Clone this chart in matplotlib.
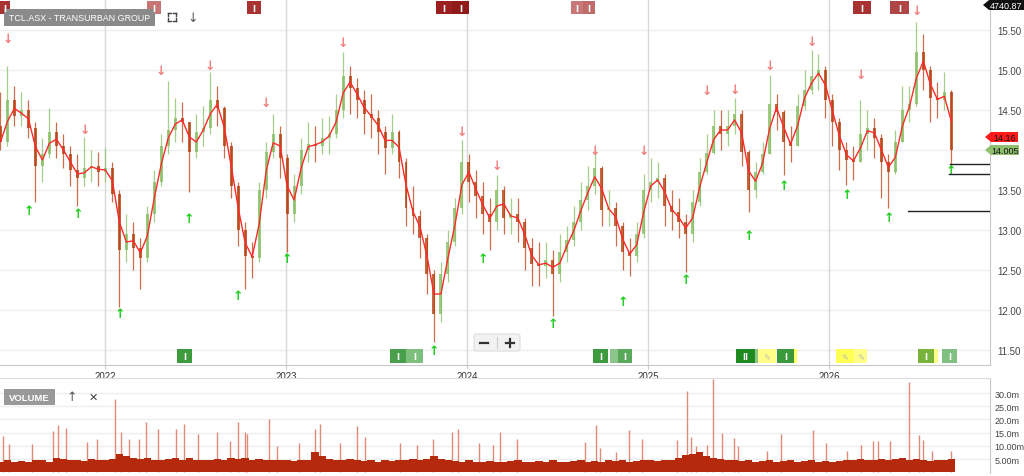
import numpy as np
import pandas as pd
import matplotlib
matplotlib.use("Agg")
import matplotlib.pyplot as plt
from matplotlib.patches import Rectangle, Polygon, FancyBboxPatch

plt.rcParams['font.family'] = ['Liberation Sans', 'DejaVu Sans']

# precios quincenales (TCL.ASX)
closes = [14.10, 14.62, 14.42, 14.50, 14.28, 13.80, 13.95, 14.22, 14.05, 13.95,
          13.75, 13.65, 13.78, 13.80, 13.72, 13.78, 13.45, 12.75, 12.95, 12.78,
          12.65, 13.20, 13.60, 14.05, 14.25, 14.40, 14.35, 13.98, 14.22, 14.28,
          14.62, 14.52, 14.05, 13.55, 13.00, 12.68, 12.65, 13.50, 13.98, 14.20,
          13.90, 13.20, 13.55, 14.00, 14.08, 14.05, 14.15, 14.20, 14.50, 14.92,
          14.78, 14.62, 14.45, 14.40, 14.22, 14.02, 14.22, 13.85, 13.28, 13.18,
          12.90, 12.45, 11.95, 12.45, 12.85, 13.28, 13.85, 13.60, 13.42, 13.20,
          13.10, 13.50, 13.15, 13.20, 13.10, 12.78, 12.58, 12.55, 12.62, 12.45,
          12.72, 12.88, 13.10, 13.38, 13.55, 13.78, 13.25, 13.28, 13.05, 12.72,
          12.68, 12.95, 13.50, 13.60, 13.65, 13.30, 13.22, 13.10, 12.95, 13.35,
          13.72, 13.96, 14.30, 14.20, 14.30, 14.45, 13.98, 13.50, 13.72, 13.95,
          14.58, 14.48, 14.10, 14.05, 14.55, 14.75, 14.92, 15.00, 14.62, 14.35,
          14.00, 13.88, 13.85, 14.20, 14.28, 14.15, 13.85, 13.72, 14.10, 14.50,
          14.58, 15.22, 15.00, 14.65, 14.62, 14.72, 14.00]
highs = [14.72, 15.05, 14.80, 14.72, 14.62, 14.35, 14.15, 14.52, 14.35, 14.20,
         14.05, 13.95, 14.16, 14.00, 13.98, 14.02, 13.85, 13.50, 13.20, 13.10,
         12.90, 13.30, 13.75, 14.20, 14.86, 14.65, 14.60, 14.35, 14.45, 14.55,
         14.97, 14.80, 14.55, 14.10, 13.60, 13.10, 12.85, 13.60, 14.10, 14.45,
         14.30, 13.95, 13.70, 14.15, 14.35, 14.30, 14.40, 14.42, 14.70, 15.23,
         15.05, 14.90, 14.75, 14.70, 14.50, 14.30, 14.45, 14.25, 13.90, 13.55,
         13.25, 12.95, 12.50, 12.60, 13.00, 13.40, 14.13, 13.95, 13.75, 13.60,
         13.40, 13.69, 13.55, 13.40, 13.40, 13.15, 12.90, 12.85, 12.85, 12.75,
         12.95, 13.05, 13.30, 13.60, 13.80, 14.02, 13.80, 13.50, 13.35, 13.10,
         12.90, 13.10, 13.70, 13.90, 13.85, 13.70, 13.50, 13.40, 13.20, 13.50,
         13.90, 14.20, 14.50, 14.50, 14.50, 14.65, 14.50, 14.00, 13.85, 14.10,
         14.94, 14.70, 14.50, 14.30, 14.70, 15.00, 15.25, 15.20, 15.05, 14.70,
         14.40, 14.10, 14.05, 14.63, 14.50, 14.40, 14.20, 13.95, 14.25, 14.80,
         14.80, 15.60, 15.45, 15.05, 14.85, 14.98, 14.75]
lows = [14.00, 14.05, 14.30, 14.30, 14.15, 13.35, 13.60, 13.90, 13.90, 13.78,
        13.55, 13.30, 13.55, 13.60, 13.55, 13.60, 13.35, 12.04, 12.60, 12.50,
        12.26, 12.60, 13.10, 13.55, 13.95, 14.10, 14.10, 13.47, 13.90, 14.05,
        14.20, 14.30, 13.90, 13.40, 12.80, 12.26, 12.40, 12.60, 13.40, 13.90,
        13.65, 12.73, 13.10, 13.45, 13.85, 13.85, 13.95, 13.95, 14.15, 14.40,
        14.45, 14.40, 14.20, 14.15, 13.95, 13.70, 13.95, 13.65, 13.05, 12.95,
        12.65, 12.20, 11.60, 11.85, 12.35, 12.80, 13.20, 13.35, 13.15, 12.95,
        12.75, 13.00, 12.95, 12.95, 12.85, 12.50, 12.30, 12.30, 12.40, 11.92,
        12.35, 12.60, 12.80, 13.00, 13.25, 13.45, 13.05, 13.05, 12.80, 12.50,
        12.42, 12.60, 12.90, 13.35, 13.40, 13.05, 13.00, 12.90, 12.48, 12.85,
        13.30, 13.70, 13.95, 14.00, 14.05, 14.20, 13.80, 13.23, 13.40, 13.70,
        13.95, 14.25, 13.69, 13.85, 14.05, 14.50, 14.70, 14.75, 14.40, 14.05,
        13.75, 13.56, 13.62, 13.85, 14.00, 13.90, 13.40, 13.27, 13.70, 14.10,
        14.35, 14.55, 14.75, 14.35, 14.40, 14.50, 13.80]
first_open = 14.30

# volumen base por quincena (millones)
vol_base = [4.0, 4.5, 3.8, 4.2, 4.0, 4.8, 4.5, 4.0,
            5.5, 5.0, 4.8, 4.5, 4.2, 5.0, 4.8, 4.5,
            5.0, 7.0, 6.0, 5.5, 5.0, 5.5, 4.8, 4.5,
            5.0, 5.5, 4.8, 5.2, 4.5, 4.8, 4.5, 5.0,
            4.8, 5.5, 5.0, 5.2, 4.5, 5.0, 4.8, 4.5,
            4.8, 4.5, 4.2, 4.5, 4.8, 7.5, 6.0, 5.0,
            4.8, 4.5, 5.0, 4.5, 4.2, 4.5, 4.0, 4.5,
            4.2, 4.5, 4.8, 5.0, 4.5, 5.0, 6.0, 5.0,
            4.5, 4.2, 4.0, 4.5, 4.0, 3.8, 4.2, 4.0,
            4.0, 4.2, 4.5, 4.0, 3.8, 4.2, 4.0, 4.5,
            4.0, 3.8, 4.2, 4.5, 4.0, 4.2, 4.0, 4.5,
            4.2, 4.5, 4.0, 4.2, 4.8, 4.5, 4.2, 4.5,
            4.8, 5.5, 6.5, 7.0, 7.5, 6.0, 5.5, 5.0,
            4.5, 4.8, 4.2, 4.5, 4.0, 4.2, 4.5, 4.0,
            4.2, 4.5, 4.0, 4.2, 4.5, 4.0, 4.2, 4.0,
            4.2, 4.5, 4.8, 5.0, 4.5, 4.8, 5.0, 4.5,
            5.0, 5.5, 4.8, 5.0, 4.5, 4.2, 4.5, 4.8, 5.0]

# picos de volumen diarios
spike_dates = ['2021-06-09', '2021-06-21', '2021-08-06', '2021-09-17', '2021-09-27',
               '2021-10-15', '2021-11-26', '2021-12-16', '2022-01-21', '2022-02-02',
               '2022-02-18', '2022-03-11', '2022-03-25', '2022-04-18', '2022-05-24',
               '2022-06-10', '2022-07-07', '2022-08-15', '2022-09-09', '2022-09-26',
               '2022-10-10', '2022-10-14', '2022-11-28', '2022-12-14', '2023-01-27',
               '2023-02-28', '2023-03-10', '2023-04-20', '2023-05-24', '2023-06-09',
               '2023-08-18', '2023-09-22', '2023-10-24', '2023-12-01', '2023-12-14',
               '2024-01-25', '2024-02-22', '2024-03-08', '2024-04-11', '2024-08-26',
               '2024-09-17', '2024-09-25', '2024-10-28', '2024-11-22', '2024-12-19',
               '2025-02-28', '2025-03-20', '2025-03-28', '2025-04-07', '2025-04-29',
               '2025-05-12', '2025-05-30', '2025-06-23', '2025-07-01', '2025-08-29',
               '2025-09-26', '2025-11-28', '2025-12-26', '2026-02-06', '2026-03-06',
               '2026-03-30', '2026-04-09', '2026-05-04', '2026-06-10', '2026-07-01',
               '2026-07-09', '2026-07-27', '2026-09-03']
spike_vals = [13.8, 10.7, 10.7, 15.7, 17.9, 16.9, 11.3, 12.5, 27.7, 15.1,
              12.5, 12.5, 18.9, 16.4, 16.4, 18.3, 14.5, 15.1, 12.0, 18.9,
              15.1, 14.5, 20.1, 10.0, 11.0, 16.4, 18.3, 11.0, 17.6, 13.5,
              11.0, 10.5, 12.5, 15.1, 16.4, 11.0, 10.5, 15.1, 12.5, 11.4,
              17.9, 9.0, 7.5, 16.1, 12.7, 12.1, 30.6, 13.5, 9.8, 10.5,
              35.5, 15.0, 12.8, 9.8, 8.0, 14.4, 16.0, 11.0, 8.0, 10.5,
              12.0, 12.0, 12.0, 34.3, 14.0, 12.2, 8.0, 8.0]

# senales (indice de barra, precio de la flecha)
down_idx = [1, 12, 23, 30, 38, 49, 66, 71, 85, 92, 101, 105, 110, 116, 123, 131]
down_px = [15.39, 14.26, 14.99, 15.05, 14.59, 15.34, 14.23, 13.80, 13.99, 13.99,
           14.74, 14.76, 15.05, 15.36, 14.94, 15.74]
up_idx = [4, 11, 17, 27, 34, 41, 62, 69, 79, 89, 98, 107, 112, 121, 127, 136]
up_px = [13.24, 13.20, 11.95, 13.14, 12.18, 12.64, 11.49, 12.64, 11.83, 12.11,
         12.38, 12.93, 13.56, 13.44, 13.16, 13.74]

years = ['2022', '2023', '2024', '2025', '2026']
price_ticks = [11.5, 12.0, 12.5, 13.0, 13.5, 14.5, 15.0, 15.5]
vol_ticks = [5, 10, 15, 20, 25, 30]
vol_labels = ['5.00m', '10.00m', '15.0m', '20.0m', '25.0m', '30.0m']

W, H = 1024, 477
fig = plt.figure(figsize=(W / 100, H / 100), dpi=100)
fig.patch.set_facecolor('white')


def fy(py):
    return 1 - py / H


ax = fig.add_axes([0, fy(366), 990 / W, fy(0) - fy(366)])
axv = fig.add_axes([0, fy(474), 990 / W, fy(379) - fy(474)], sharex=ax)

dates = pd.date_range('2021-06-04', '2026-09-04', periods=len(closes))
c = np.array(closes)
o = np.concatenate([[first_open], c[:-1]])
up = c >= o
cols = np.where(up, '#86bf62', '#b8400f')

# velas
ax.vlines(dates, lows, highs, colors=cols, lw=0.9, alpha=0.75, zorder=3)
ax.bar(dates, np.abs(c - o), bottom=np.minimum(o, c), width=6, color=cols,
       alpha=0.8, zorder=3, linewidth=0)
ma = pd.Series(closes).rolling(2, min_periods=1).mean()
ax.plot(dates, ma, color='#ff2a2a', lw=1.0, zorder=4)

for i, p in zip(down_idx, down_px):
    ax.text(dates[i], p, '↓', color='#f08080', ha='center', va='center',
            fontsize=9, fontweight='bold', family='DejaVu Sans', zorder=5)
for i, p in zip(up_idx, up_px):
    ax.text(dates[i], p, '↑', color='#22cc22', ha='center', va='center',
            fontsize=9, fontweight='bold', family='DejaVu Sans', zorder=5)

# lineas horizontales de soporte
ax.axhline(13.83, xmin=950 / 990, xmax=1, color='#222222', lw=1, zorder=5)
ax.axhline(13.70, xmin=949 / 990, xmax=1, color='#222222', lw=1, zorder=5)
ax.axhline(13.24, xmin=908 / 990, xmax=1, color='#222222', lw=1, zorder=5)

ax.set_ylim(11.3125, 15.8875)
ax.set_xlim(pd.Timestamp('2021-06-03'), pd.Timestamp('2026-11-21'))
ax.set_yticks(price_ticks)
ax.set_yticklabels(['%.2f' % t for t in price_ticks])
ax.yaxis.tick_right()
ax.tick_params(axis='y', length=0, pad=5, labelsize=7, labelcolor='#444444')
for t in [11.5, 12.0, 12.5, 13.0, 13.5, 14.0, 14.5, 15.0, 15.5]:
    ax.axhline(t, color='#efefef', lw=1, zorder=0)
year_dates = [pd.Timestamp(y + '-01-01') for y in years]
for d in year_dates:
    ax.axvline(d, color='#d9d9d9', lw=1, zorder=1)
ax.set_xticks(year_dates)
ax.set_xticklabels(years)
ax.tick_params(axis='x', length=3, pad=1, labelsize=7, labelcolor='#333333',
               color='#cccccc')
for s in ['left', 'top']:
    ax.spines[s].set_visible(False)
ax.spines['bottom'].set_color('#c8c8c8')
ax.spines['right'].set_color('#c8c8c8')

# volumen
axv.bar(dates, vol_base, width=15, color='#b52a0c', linewidth=0, zorder=2)
sd = pd.to_datetime(spike_dates)
axv.vlines(sd, 0, spike_vals, colors='#e08a78', lw=1.0, zorder=1)
axv.set_ylim(-0.3, 35.7)
axv.set_yticks(vol_ticks)
axv.set_yticklabels(vol_labels)
axv.yaxis.tick_right()
axv.tick_params(axis='y', length=0, pad=3, labelsize=6.5, labelcolor='#444444')
axv.tick_params(axis='x', bottom=False, labelbottom=False)
axv.grid(axis='y', color='#eeeeee', lw=1)
axv.set_axisbelow(True)
for s in ['left', 'bottom']:
    axv.spines[s].set_visible(False)
axv.spines['top'].set_color('#dddddd')
axv.spines['right'].set_color('#c8c8c8')

# capa de interfaz en pixeles
ov = fig.add_axes([0, 0, 1, 1], zorder=10)
ov.set_xlim(0, W)
ov.set_ylim(H, 0)
ov.axis('off')
ov.patch.set_alpha(0)


def caja(x0, x1, y0, y1, color, texto='I', tcol='white', alpha=1.0):
    ov.add_patch(Rectangle((x0, y0), x1 - x0, y1 - y0, color=color, alpha=alpha, lw=0))
    if texto:
        ov.text((x0 + x1) / 2, (y0 + y1) / 2 + 0.5, texto, color=tcol, ha='center',
                va='center', fontsize=6, fontweight='bold', family='DejaVu Sans')


top_marks = [(0, 10, '#a83232'), (147, 161, '#c87575'), (247, 261, '#a83232'),
             (436, 452, '#9c1f1f'), (452, 469, '#8e1a1a'), (571, 583, '#c87878'),
             (583, 595, '#c06a6a'), (853, 871, '#a83232'), (890, 909, '#b04545')]
for x0, x1, col in top_marks:
    caja(x0, x1, 2, 15, col)

bot_marks = [(177, 192, '#3d9b3d', 'I'), (390, 406, '#4aa04a', 'I'), (406, 423, '#7dc07d', 'I'),
             (593, 608, '#3d9b3d', 'I'), (610, 620, '#8cc48c', ''), (618, 632, '#5aa85a', 'I'),
             (736, 755, '#1f8a1f', 'II'), (755, 758, '#8cc48c', ''), (758, 776, '#ffff88', '✎'),
             (777, 794, '#3a9a3a', 'I'), (794, 797, '#ffff66', ''), (836, 854, '#ffff55', '✎'),
             (854, 867, '#ffff88', '✎'), (918, 934, '#78b43c', 'I'), (934, 938, '#ffff88', ''),
             (942, 957, '#80c080', 'I')]
for x0, x1, col, t in bot_marks:
    tc = '#bbbbbb' if t == '✎' else 'white'
    caja(x0, x1, 350, 364, col, t, tc)

# titulo
ov.add_patch(Rectangle((4, 10), 151, 17, color='#8a8a8a', lw=0))
ov.text(79.5, 18.5, 'TCL.ASX - TRANSURBAN GROUP', color='white', fontsize=6.4,
        va='center', ha='center')
for (x, y, dx, dy) in [(168, 14, 1, 1), (176, 14, -1, 1), (168, 22, 1, -1), (176, 22, -1, -1)]:
    ov.plot([x, x + 3 * dx], [y, y], color='#444444', lw=1)
    ov.plot([x, x], [y, y + 3 * dy], color='#444444', lw=1)
ov.text(193, 18, '↓', color='#555555', fontsize=9, ha='center', va='center',
        family='DejaVu Sans')

ov.add_patch(Rectangle((4, 390), 51, 16, color='#999999', lw=0))
ov.text(29.5, 398.5, 'VOLUME', color='white', fontsize=6.8, fontweight='bold',
        va='center', ha='center')
ov.text(72, 398, '↑', color='#555555', fontsize=9, ha='center', va='center',
        family='DejaVu Sans')
ov.text(93, 398, '✕', color='#444444', fontsize=8, ha='center', va='center',
        family='DejaVu Sans')

# control de zoom
ov.add_patch(FancyBboxPatch((474, 335), 46, 17, boxstyle='round,pad=0,rounding_size=2',
                            fc='#f2f2f2', ec='#dddddd', lw=0.8))
ov.plot([484 - 4, 484 + 4], [343.5, 343.5], color='#333333', lw=1.6)
ov.plot([510 - 4, 510 + 4], [343.5, 343.5], color='#333333', lw=1.6)
ov.plot([510, 510], [339.5, 347.5], color='#333333', lw=1.6)
ov.plot([497, 497], [338, 349], color='#cccccc', lw=0.8)


def etiqueta(yc, x0, x1, color, texto, tcol):
    pts = [(x0, yc), (x0 + 6, yc - 5), (x1, yc - 5), (x1, yc + 5), (x0 + 6, yc + 5)]
    ov.add_patch(Polygon(pts, closed=True, fc=color, ec='none'))
    ov.text((x0 + 6 + x1) / 2, yc + 0.5, texto, color=tcol, fontsize=6.5,
            ha='center', va='center')


etiqueta(138, 985, 1018, '#ff1a1a', '14.16', '#111111')
etiqueta(151, 985, 1019, '#8fbf6f', '14.005', '#111111')
etiqueta(6, 983, 1024, '#111111', '4740.87', 'white')

fig.savefig('out.png', dpi=100)
